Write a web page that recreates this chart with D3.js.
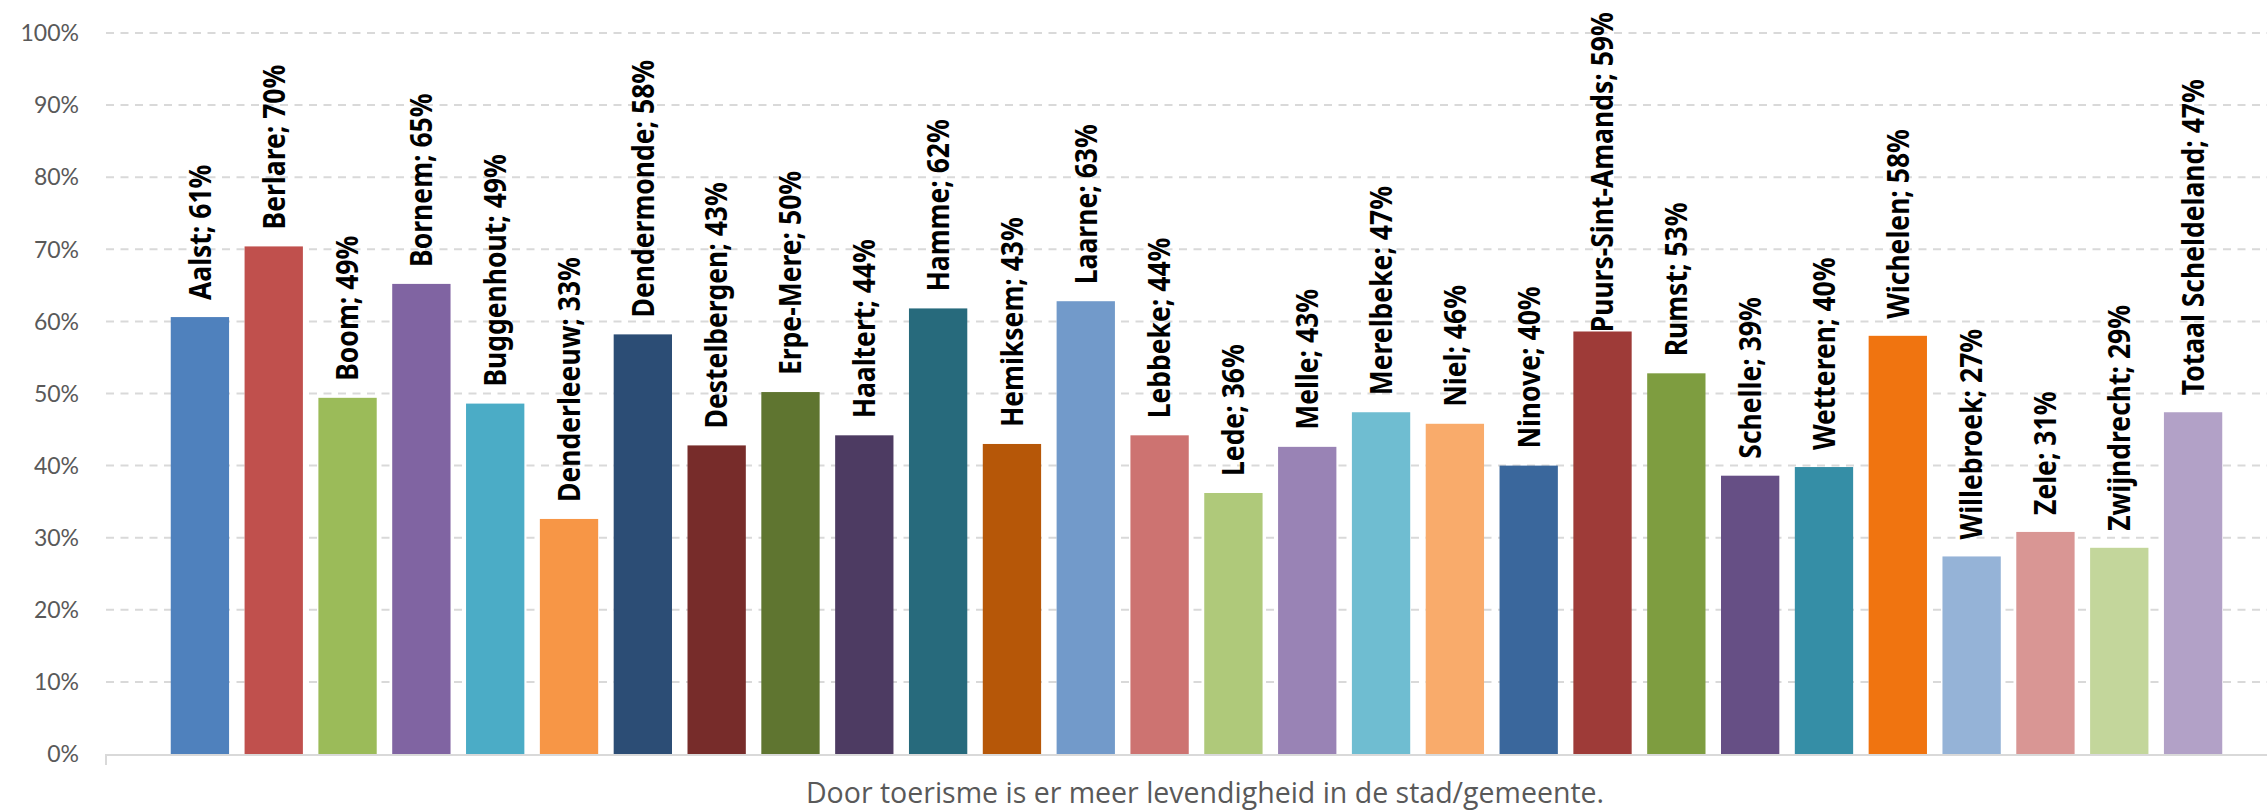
<!DOCTYPE html>
<html>
<head>
<meta charset="utf-8">
<script src="https://cdn.jsdelivr.net/npm/d3@7"></script>
<style>
  html, body { margin: 0; padding: 0; background: #fff; }
  svg { display: block; }
  .tick-label { font-family: Lato, "Open Sans", sans-serif; font-size: 23px; fill: #595959; }
  .bar-label { font-family: "Noto Sans", "Open Sans", sans-serif; font-size: 25px; font-weight: 700; fill: #000; }
  .axis-title { font-family: "Open Sans", sans-serif; font-size: 28.5px; fill: #595959; }
</style>
</head>
<body>
<div id="chart"></div>
<script>
// Share of respondents agreeing, per municipality (Scheldeland survey).
var municipalities = ["Aalst", "Berlare", "Boom", "Bornem", "Buggenhout", "Denderleeuw",
  "Dendermonde", "Destelbergen", "Erpe-Mere", "Haaltert", "Hamme", "Hemiksem", "Laarne",
  "Lebbeke", "Lede", "Melle", "Merelbeke", "Niel", "Ninove", "Puurs-Sint-Amands", "Rumst",
  "Schelle", "Wetteren", "Wichelen", "Willebroek", "Zele", "Zwijndrecht", "Totaal Scheldeland"];

var shares = [0.606, 0.704, 0.494, 0.652, 0.486, 0.326, 0.582, 0.428, 0.502, 0.442, 0.618,
  0.430, 0.628, 0.442, 0.362, 0.426, 0.474, 0.458, 0.400, 0.586, 0.528, 0.386, 0.398, 0.580,
  0.274, 0.308, 0.286, 0.474];

var colours = ["#4f81bd", "#c0504d", "#9bbb59", "#8064a2", "#4bacc6", "#f79646", "#2c4d75",
  "#772c2a", "#5f7530", "#4d3b62", "#276a7c", "#b65708", "#729aca", "#cd7371", "#afc97a",
  "#9983b5", "#6fbdd1", "#f9ab6b", "#3a679c", "#9e3b38", "#7e9d40", "#664f85", "#358ea6",
  "#f07410", "#95b3d7", "#d99694", "#c3d69b", "#b2a1c7"];

var yTicks = [0, 0.1, 0.2, 0.3, 0.4, 0.5, 0.6, 0.7, 0.8, 0.9, 1.0];
var axisTitle = "Door toerisme is er meer levendigheid in de stad/gemeente.";

var W = 2267, H = 812;
var plotLeft = 106, plotRight = W, plotTop = 33, plotBottom = 754;

var svg = d3.select("#chart").append("svg").attr("width", W).attr("height", H);

var x = d3.scaleBand().domain(municipalities).range([163, 2230])
  .paddingInner(0.21).paddingOuter(0.105);
var y = d3.scaleLinear().domain([0, 1]).range([plotBottom, plotTop]);

// -- gridlines + y labels ----------------------------------------------------
svg.append("g").selectAll("line")
  .data(yTicks.filter(function (t) { return t > 0; })).join("line")
  .attr("x1", plotLeft).attr("x2", plotRight)
  .attr("y1", function (d) { return y(d); }).attr("y2", function (d) { return y(d); })
  .attr("stroke", "#d9d9d9").attr("stroke-width", 2).attr("stroke-dasharray", "8,6.5");

svg.append("g").selectAll("text")
  .data(yTicks).join("text")
  .attr("class", "tick-label")
  .attr("x", 79).attr("y", function (d) { return y(d); })
  .attr("dy", "0.36em").attr("text-anchor", "end")
  .text(d3.format(".0%"));

// -- bars ---------------------------------------------------------------------
svg.append("g").selectAll("rect")
  .data(municipalities).join("rect")
  .attr("x", function (d) { return x(d); })
  .attr("width", x.bandwidth())
  .attr("y", function (d, i) { return y(shares[i]); })
  .attr("height", function (d, i) { return plotBottom - y(shares[i]); })
  .attr("fill", function (d, i) { return colours[i]; });

// -- x axis line with single left tick ----------------------------------------
svg.append("line")
  .attr("x1", plotLeft).attr("x2", plotRight).attr("y1", plotBottom + 1).attr("y2", plotBottom + 1)
  .attr("stroke", "#d9d9d9").attr("stroke-width", 2);
svg.append("line")
  .attr("x1", plotLeft).attr("x2", plotLeft).attr("y1", plotBottom).attr("y2", plotBottom + 11)
  .attr("stroke", "#d9d9d9").attr("stroke-width", 2);

// -- vertical data labels; pushed down into the bar when they would leave the top.
// The source glyphs run a little longer and wider, hence the stretch.
var SX = 1.06, SY = 1.2;
var labels = svg.append("g").selectAll("text")
  .data(municipalities).join("text")
  .attr("class", "bar-label")
  .attr("dy", "0.36em")
  .text(function (d, i) { return d + "; " + Math.round(shares[i] * 100) + "%"; });

labels.each(function (d, i) {
  var len = this.getComputedTextLength() * SX;
  var start = y(shares[i]) - 17;
  if (start - len < 12) start = 12 + len;
  d3.select(this).attr("transform",
    "translate(" + (x(d) + x.bandwidth() / 2) + "," + start + ") rotate(-90) scale(" + SX + "," + SY + ")");
});

svg.append("text")
  .attr("class", "axis-title")
  .attr("x", 1205).attr("y", 803)
  .attr("text-anchor", "middle")
  .text(axisTitle);
</script>
</body>
</html>
